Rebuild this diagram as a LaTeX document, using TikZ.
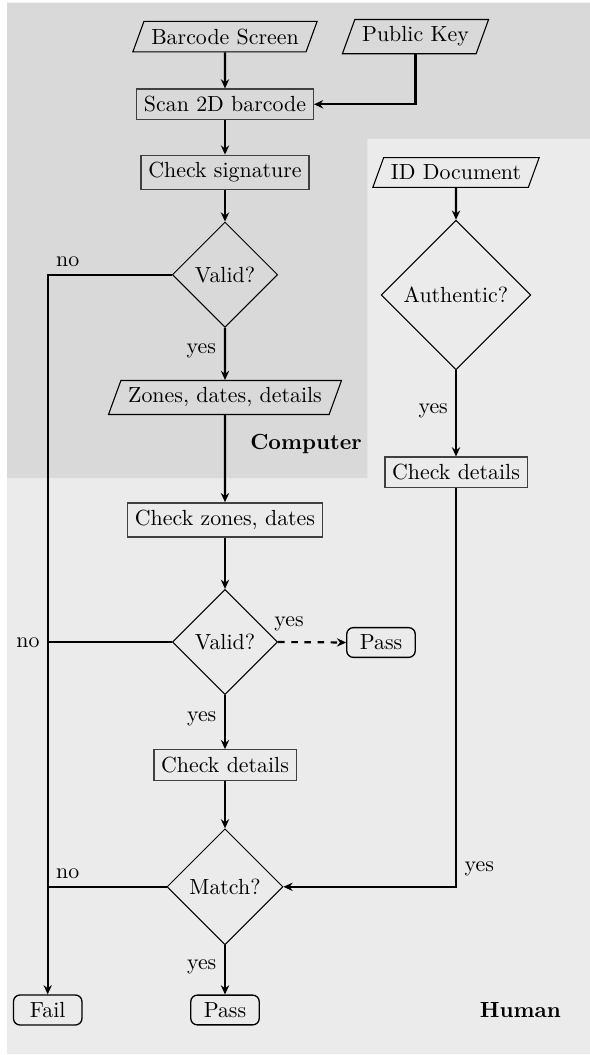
\documentclass[tikz,border=0pt]{standalone}
\usetikzlibrary{shapes.geometric,arrows.meta}
\begin{document}
\begin{tikzpicture}[x=0.457pt,y=-0.457pt,
  conn/.style={line width=1pt},
  arr/.style={conn,-{Stealth[length=4.2pt,width=3.8pt,inset=1.4pt]}},
  procbox/.style={draw=black!75,line width=0.6pt,rectangle,inner sep=3.33pt},
  iobox/.style={draw,line width=0.5pt,trapezium,trapezium left angle=70,trapezium right angle=110,inner sep=3.33pt},
  decide/.style={draw,line width=0.45pt,diamond,aspect=1,inner sep=3.33pt},
  term/.style={draw,line width=0.6pt,rectangle,rounded corners=3pt,minimum width=31.3pt,inner sep=3.33pt},
  lbl/.style={inner sep=0pt},
  lane/.style={font=\bfseries,inner sep=0pt}]
\useasboundingbox (0,0) rectangle (590,1055);
% lanes
\fill[black!8] (367.7,139) -- (590,139) -- (590,1054) -- (7,1054) -- (7,478.3) -- (367.7,478.3) -- cycle;
\fill[black!15] (7,2.7) -- (590,2.7) -- (590,139) -- (367.7,139) -- (367.7,478.3) -- (7,478.3) -- cycle;
% nodes
\node[iobox] (bs) at (225,36.6) {Barcode Screen};
\node[iobox] (pk) at (415.5,36.6) {Public Key};
\node[procbox] (scan) at (225,104.3) {Scan 2D barcode};
\node[procbox] (sig) at (225,172.5) {Check signature};
\node[decide] (v1) at (225,274.7) {Valid?};
\node[iobox] (zdd) at (225,397.5) {Zones, dates, details};
\node[procbox] (cz) at (225,520) {Check zones, dates};
\node[decide] (v2) at (225,642) {Valid?};
\node[term] (pass1) at (381,642.5) {Pass};
\node[procbox] (cd) at (225,765) {Check details};
\node[decide] (match) at (225,886.8) {Match?};
\node[term] (pass2) at (225,1010) {Pass};
\node[term] (fail) at (47.7,1010) {Fail};
\node[iobox] (id) at (456,172.5) {ID Document};
\node[decide] (auth) at (456,295) {Authentic?};
\node[procbox] (cdr) at (456,472.3) {Check details};
\node[lane] (lcomp) at (306,444) {Computer};
\node[lane] (lhum) at (520.4,1010) {Human};
% connectors
\draw[arr] (bs) -- (scan);
\draw[arr] (pk.south) |- (scan.east);
\draw[arr] (scan) -- (sig);
\draw[arr] (sig) -- (v1);
\draw[arr] (v1.west) -| (fail.north);
\draw[arr] (v1) -- (zdd);
\draw[arr] (zdd) -- (cz);
\draw[arr] (cz) -- (v2);
\draw[conn] (v2.west) -- (v2.west -| fail.north);
\draw[arr,dashed] (v2.east) -- (pass1.west);
\draw[arr] (v2) -- (cd);
\draw[arr] (cd) -- (match);
\draw[conn] (match.west) -- (match.west -| fail.north);
\draw[arr] (match) -- (pass2);
\draw[arr] (id) -- (auth);
\draw[arr] (auth) -- (cdr);
\draw[arr] (cdr.south) |- (match.east);
% labels
\node[lbl] (n1) at (67.7,261.7) {no};
\node[lbl] (y1) at (201.3,350.7) {yes};
\node[lbl] (n2) at (28,642.3) {no};
\node[lbl] (y2) at (289,624) {yes};
\node[lbl] (y3) at (201.7,719) {yes};
\node[lbl] (n3) at (67.7,873.3) {no};
\node[lbl] (y4) at (479.3,869) {yes};
\node[lbl] (y5) at (201.7,967.3) {yes};
\node[lbl] (y6) at (433.2,410.7) {yes};
\end{tikzpicture}
\end{document}
